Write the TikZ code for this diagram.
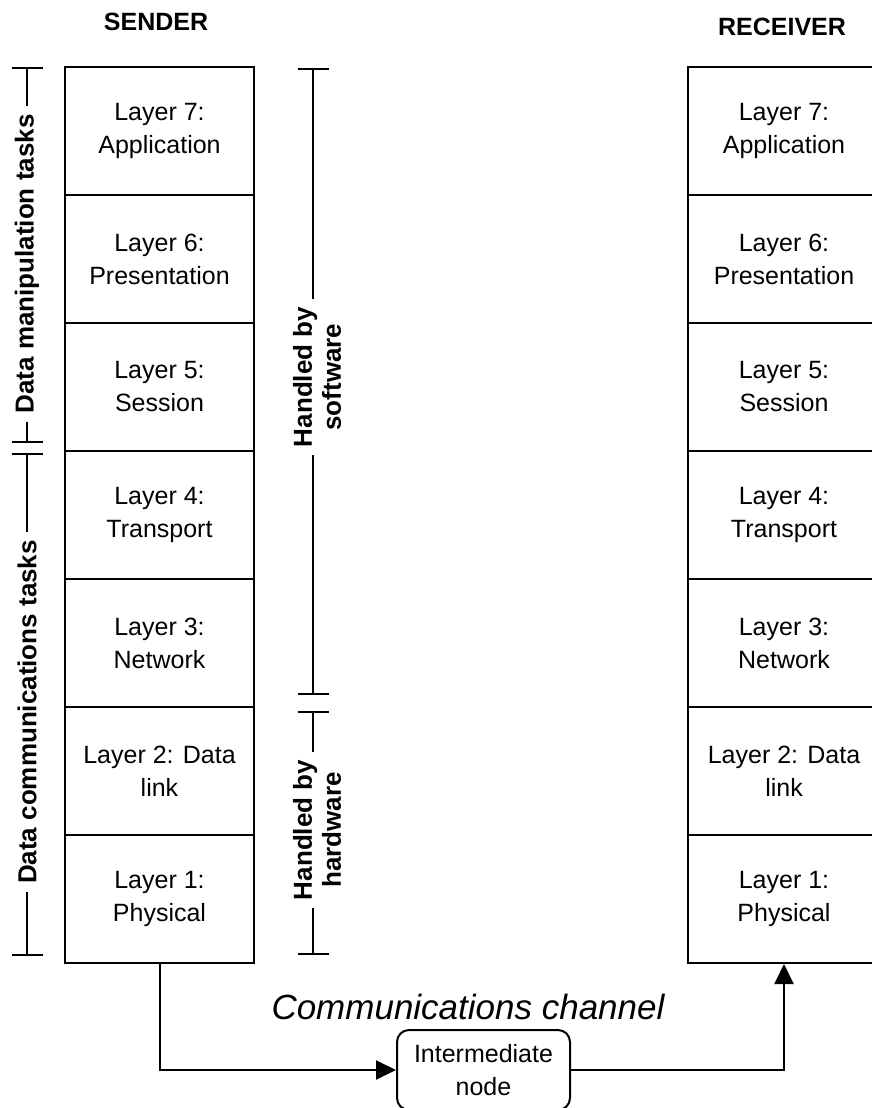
\documentclass[tikz,border=0pt]{standalone}
\usepackage{fontspec}
\setmainfont{Liberation Sans}
\usetikzlibrary{arrows.meta}

\tikzset{
	layer/.style = {draw, line width=2pt, minimum width=189pt, minimum height=128pt,
		inner sep=0pt, align=center, font=\fontsize{25}{33}\selectfont},
	side/.style = {rotate=90, inner sep=8pt, align=center,
		font=\bfseries\fontsize{26}{29}\selectfont},
	brace/.style = {line width=2pt},
	topbar/.style = {{Bar[width=31pt]}-},
	botbar/.style = {-{Bar[width=31pt]}},
	flow/.style = {line width=2pt, -{Triangle[length=20pt,width=19pt]}}
}

\begin{document}
\begin{tikzpicture}[x=1pt,y=-1pt]
\useasboundingbox (0,0) rectangle (872,1108);
\clip (0,0) rectangle (872,1108);
% headings
\node[font=\bfseries\fontsize{25}{30}\selectfont] (sender) at (156,22) {SENDER};
\node[font=\bfseries\fontsize{25}{30}\selectfont] (receiver) at (782,27) {RECEIVER};
% sender stack
\node[layer] (l7s) at (159.5,131) {Layer 7:\\Application};
\node[layer] (l6s) at (159.5,259) {Layer 6:\\Presentation};
\node[layer] (l5s) at (159.5,387) {Layer 5:\\Session};
\node[layer] (l4s) at (159.5,515) {Layer 4:\\Transport};
\node[layer] (l3s) at (159.5,643) {Layer 3:\\Network};
\node[layer] (l2s) at (159.5,771) {Layer 2: Data\\link};
\node[layer] (l1s) at (159.5,899) {Layer 1:\\Physical};
% receiver stack
\node[layer, minimum width=192pt] (l7r) at (784,131) {Layer 7:\\Application};
\node[layer, minimum width=192pt] (l6r) at (784,259) {Layer 6:\\Presentation};
\node[layer, minimum width=192pt] (l5r) at (784,387) {Layer 5:\\Session};
\node[layer, minimum width=192pt] (l4r) at (784,515) {Layer 4:\\Transport};
\node[layer, minimum width=192pt] (l3r) at (784,643) {Layer 3:\\Network};
\node[layer, minimum width=192pt] (l2r) at (784,771) {Layer 2: Data\\link};
\node[layer, minimum width=192pt] (l1r) at (784,899) {Layer 1:\\Physical};
% task brackets
\coordinate (dmtop) at (27,67);
\coordinate (dmbot) at (27,443);
\coordinate (dctop) at (27,453);
\coordinate (dcbot) at (27,956);
\node[side] (dm) at (27,264) {Data manipulation tasks};
\node[side] (dc) at (27,712) {Data communications tasks};
\draw[brace, topbar] (dmtop) -- (dmtop |- dm.east);
\draw[brace, botbar] (dm.west -| dmtop) -- (dmbot);
\draw[brace, topbar] (dctop) -- (dctop |- dc.east);
\draw[brace, botbar] (dc.west -| dctop) -- (dcbot);
% software / hardware brackets
\coordinate (swtop) at (313,68);
\coordinate (swbot) at (313,695);
\coordinate (hwtop) at (313,711);
\coordinate (hwbot) at (313,955);
\node[side] (sw) at (317,377) {Handled by\\software};
\node[side] (hw) at (317,830) {Handled by\\hardware};
\draw[brace, topbar] (swtop) -- (swtop |- sw.east);
\draw[brace, botbar] (sw.west -| swtop) -- (swbot);
\draw[brace, topbar] (hwtop) -- (hwtop |- hw.east);
\draw[brace, botbar] (hw.west -| hwtop) -- (hwbot);
% channel
\node[font=\itshape\fontsize{35}{40}\selectfont] (chan) at (468,1007) {Communications channel};
\node[draw, line width=2pt, rounded corners=12pt, minimum width=173pt, minimum height=80pt,
	align=center, font=\fontsize{25}{33}\selectfont] (inter) at (483.5,1070) {Intermediate\\node};
\draw[flow] (l1s.south) |- (inter.west);
\draw[flow] (inter.east) -| (l1r.south);
\end{tikzpicture}
\end{document}
